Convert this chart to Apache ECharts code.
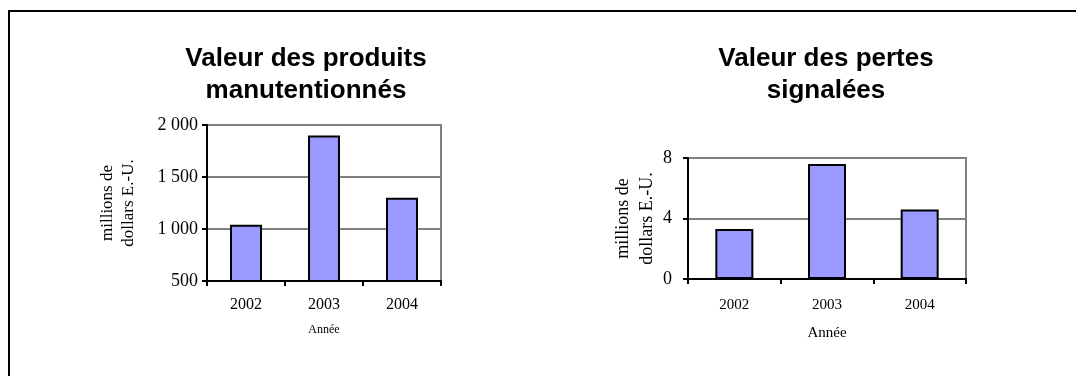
<!DOCTYPE html>
<html>
<head>
<meta charset="utf-8">
<script src="https://cdn.jsdelivr.net/npm/echarts@6/dist/echarts.min.js"></script>
<style>
html,body{margin:0;padding:0;background:#fff;}
#c{width:1076px;height:376px;}
</style>
</head>
<body>
<div id="c"></div>
<script>
var categories = ['2002', '2003', '2004'];
var productsValues = [1040, 1900, 1300];
var lossesValues = [3.3, 7.6, 4.6];
var productsTicks = {min: 500, max: 2000, interval: 500};
var lossesTicks = {min: 0, max: 8, interval: 4};
var titleLeft = 'Valeur des produits\nmanutentionnés';
var titleRight = 'Valeur des pertes\nsignalées';
var yName = 'millions de\ndollars E.-U.';
var xName = 'Année';

var serif = '"Liberation Serif", "Times New Roman", serif';
var sans = '"Liberation Sans", Arial, sans-serif';

function fmtThousands(v) {
  return String(v).replace(/\B(?=(\d{3})+(?!\d))/g, ' ');
}

var chart = echarts.init(document.getElementById('c'), null, {renderer: 'canvas'});

function xAxis(gridIndex, fs, margin, nameFs, nameGap) {
  return {
    type: 'category', gridIndex: gridIndex, data: categories,
    name: xName, nameLocation: 'middle', nameGap: nameGap,
    nameTextStyle: {fontFamily: serif, fontSize: nameFs, color: '#000'},
    axisLine: {show: true, lineStyle: {color: '#000', width: 2}},
    axisTick: {show: true, length: 5, lineStyle: {color: '#000', width: 2}, alignWithLabel: false},
    axisLabel: {fontFamily: serif, fontSize: fs, color: '#000', margin: margin},
    splitLine: {show: false}
  };
}
function yAxis(gridIndex, ticks, fs, margin, nameFs, nameLh, nameGap, fmt) {
  return {
    type: 'value', gridIndex: gridIndex, min: ticks.min, max: ticks.max, interval: ticks.interval,
    name: yName, nameLocation: 'middle', nameRotate: 90, nameGap: nameGap,
    nameTextStyle: {fontFamily: serif, fontSize: nameFs, lineHeight: nameLh, color: '#000', align: 'center'},
    axisLine: {show: true, lineStyle: {color: '#000', width: 2}},
    axisTick: {show: true, length: 5, lineStyle: {color: '#000', width: 2}},
    axisLabel: {fontFamily: serif, fontSize: fs, color: '#000', margin: margin, formatter: fmt},
    splitLine: {show: true, lineStyle: {color: '#808080', width: 2}}
  };
}

var barStyle = {color: '#9999FF', borderColor: '#000', borderWidth: 2};
var titleStyle = {fontFamily: sans, fontSize: 26, fontWeight: 'bold', lineHeight: 32, color: '#000'};

chart.setOption({
  animation: false,
  backgroundColor: '#fff',
  title: [
    {text: titleLeft, left: 301, top: 38, textAlign: 'center', textStyle: titleStyle},
    {text: titleRight, left: 821, top: 38, textAlign: 'center', textStyle: titleStyle}
  ],
  grid: [
    {left: 207, top: 125, width: 234, height: 156, show: true, borderColor: '#808080', borderWidth: 2, backgroundColor: 'transparent'},
    {left: 688, top: 158, width: 278, height: 121, show: true, borderColor: '#808080', borderWidth: 2, backgroundColor: 'transparent'}
  ],
  xAxis: [
    xAxis(0, 16, 16, 12, 43),
    xAxis(1, 15, 19, 15, 47)
  ],
  yAxis: [
    yAxis(0, productsTicks, 18, 9, 17, 21, 68, fmtThousands),
    yAxis(1, lossesTicks, 18, 16, 18, 24, 29, null)
  ],
  series: [
    {type: 'bar', xAxisIndex: 0, yAxisIndex: 0, data: productsValues, barWidth: '41%', itemStyle: barStyle},
    {type: 'bar', xAxisIndex: 1, yAxisIndex: 1, data: lossesValues, barWidth: '41%', itemStyle: barStyle}
  ],
  graphic: [
    {type: 'polyline', shape: {points: [[9, 376], [9, 11], [1076, 11]]},
     style: {stroke: '#000', lineWidth: 2, fill: null}, silent: true}
  ]
});
</script>
</body>
</html>
